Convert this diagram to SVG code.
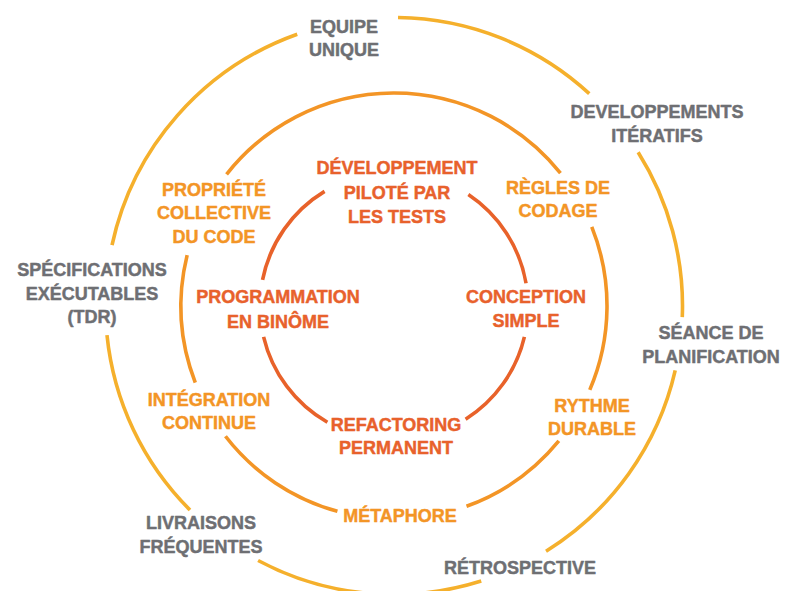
<svg xmlns="http://www.w3.org/2000/svg" width="785" height="591" viewBox="0 0 785 591">
  <style>
    .ring { fill: none; stroke-width: 3.6; stroke-linecap: butt; }
    .outer { stroke: #F5B02C; }
    .middle { stroke: #F39526; }
    .inner { stroke: #E8622A; }
    text { font-family: "Liberation Sans", Arial, sans-serif; font-weight: bold; font-size: 18px; text-anchor: middle; stroke-width: 0.45px; stroke-linejoin: round; }
    .t-outer { fill: #6E6F73; stroke: #6E6F73; }
    .t-middle { fill: #F39526; stroke: #F39526; }
    .t-inner { fill: #E8612C; stroke: #E8612C; }
  </style>
  <rect width="785" height="591" fill="#FFFFFF"/>

  <!-- Concentric rings, centre (394,306), broken where labels sit -->
  <g id="rings">
    <g id="ring-outer" class="ring outer">
      <path d="M398.03,17.53 A288.5,288.5 0 0 1 589.28,93.64"/>
      <path d="M638.13,152.25 A288.5,288.5 0 0 1 682.29,317.08"/>
      <path d="M675.22,370.41 A288.5,288.5 0 0 1 546.03,551.19"/>
      <path d="M481.23,581.00 A288.5,288.5 0 0 1 258.09,560.48"/>
      <path d="M190.00,510.00 A288.5,288.5 0 0 1 106.98,335.16"/>
      <path d="M112.02,245.03 A288.5,288.5 0 0 1 297.22,34.22"/>
    </g>
    <g id="ring-middle" class="ring middle">
      <path d="M226.57,174.31 A213,213 0 0 1 560.46,173.11"/>
      <path d="M591.77,226.90 A213,213 0 0 1 589.78,389.91"/>
      <path d="M558.83,440.91 A213,213 0 0 1 466.50,506.28"/>
      <path d="M337.44,511.35 A213,213 0 0 1 225.47,436.26"/>
      <path d="M195.28,382.68 A213,213 0 0 1 187.15,255.19"/>
    </g>
    <g id="ring-inner" class="ring inner">
      <path d="M262.55,279.97 A134,134 0 0 1 324.58,191.38"/>
      <path d="M468.35,194.52 A134,134 0 0 1 526.04,283.19"/>
      <path d="M524.41,336.83 A134,134 0 0 1 465.60,419.26"/>
      <path d="M327.41,422.28 A134,134 0 0 1 263.59,336.83"/>
    </g>
  </g>

  <!-- Outer ring practices -->
  <g id="equipe-unique" class="t-outer">
    <text x="344" y="33">EQUIPE</text>
    <text x="344" y="56">UNIQUE</text>
  </g>
  <g id="developpements-iteratifs" class="t-outer">
    <text x="657" y="118">DEVELOPPEMENTS</text>
    <text x="657" y="142">ITÉRATIFS</text>
  </g>
  <g id="seance-planification" class="t-outer">
    <text x="711" y="339">SÉANCE DE</text>
    <text x="711" y="363">PLANIFICATION</text>
  </g>
  <g id="retrospective" class="t-outer">
    <text x="520" y="574">RÉTROSPECTIVE</text>
  </g>
  <g id="livraisons-frequentes" class="t-outer">
    <text x="201" y="529">LIVRAISONS</text>
    <text x="201" y="553">FRÉQUENTES</text>
  </g>
  <g id="specifications-executables" class="t-outer">
    <text x="92" y="276">SPÉCIFICATIONS</text>
    <text x="92" y="300">EXÉCUTABLES</text>
    <text x="92" y="323">(TDR)</text>
  </g>

  <!-- Middle ring practices -->
  <g id="propriete-collective" class="t-middle">
    <text x="214" y="196">PROPRIÉTÉ</text>
    <text x="214" y="219">COLLECTIVE</text>
    <text x="214" y="243">DU CODE</text>
  </g>
  <g id="regles-codage" class="t-middle">
    <text x="558" y="194">RÈGLES DE</text>
    <text x="558" y="217">CODAGE</text>
  </g>
  <g id="rythme-durable" class="t-middle">
    <text x="592" y="412">RYTHME</text>
    <text x="592" y="435">DURABLE</text>
  </g>
  <g id="metaphore" class="t-middle">
    <text x="400" y="522">MÉTAPHORE</text>
  </g>
  <g id="integration-continue" class="t-middle">
    <text x="209" y="406">INTÉGRATION</text>
    <text x="209" y="429">CONTINUE</text>
  </g>

  <!-- Inner ring practices -->
  <g id="developpement-tests" class="t-inner">
    <text x="397" y="174">DÉVELOPPEMENT</text>
    <text x="397" y="199">PILOTÉ PAR</text>
    <text x="397" y="223">LES TESTS</text>
  </g>
  <g id="conception-simple" class="t-inner">
    <text x="526" y="303">CONCEPTION</text>
    <text x="526" y="327">SIMPLE</text>
  </g>
  <g id="programmation-binome" class="t-inner">
    <text x="278" y="303">PROGRAMMATION</text>
    <text x="278" y="328">EN BINÔME</text>
  </g>
  <g id="refactoring-permanent" class="t-inner">
    <text x="396" y="431">REFACTORING</text>
    <text x="396" y="454">PERMANENT</text>
  </g>
</svg>
